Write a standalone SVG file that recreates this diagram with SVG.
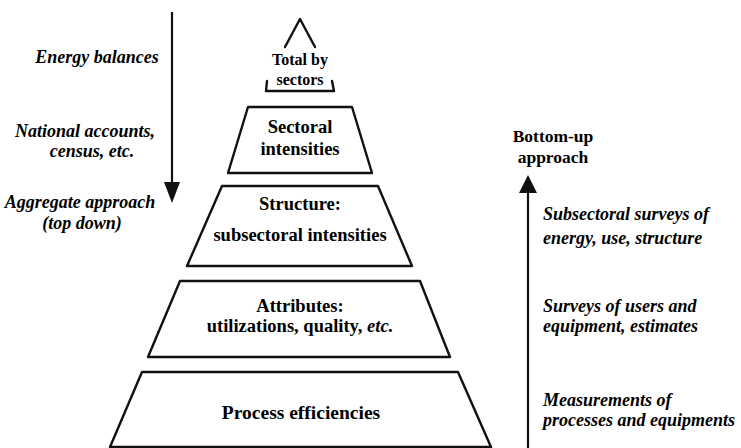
<svg xmlns="http://www.w3.org/2000/svg" width="741" height="448" viewBox="0 0 741 448">
<rect width="741" height="448" fill="#fff"/>
<g id="connectors" stroke="#111" stroke-width="2.2" fill="none">
<line x1="172" y1="12" x2="172" y2="186"/>
<polygon fill="#111" stroke="none" points="164,182 180,182 172,203"/>
<line x1="528" y1="190" x2="528" y2="448"/>
<polygon fill="#111" stroke="none" points="519,193 537,193 528,175"/>
</g>
<g id="total">
<path fill="none" stroke="#111" stroke-width="2.4" stroke-linejoin="round" stroke-linecap="round" d="M285,47 L300,19 L315,47 M267,81 L266,91 L334,91 L332,81"/>
<text x="300" y="65" font-family="Liberation Serif" font-size="16" font-weight="bold" text-anchor="middle">Total by</text>
<text x="300" y="85" font-family="Liberation Serif" font-size="16" font-weight="bold" text-anchor="middle">sectors</text>
</g>
<g id="sectoral">
<path fill="none" stroke="#111" stroke-width="2.4" stroke-linejoin="round" d="M248,107 L352,107 L372,173 L228,173 Z"/>
<text x="300" y="133" font-family="Liberation Serif" font-size="18.5" font-weight="bold" text-anchor="middle">Sectoral</text>
<text x="300" y="155" font-family="Liberation Serif" font-size="18.5" font-weight="bold" text-anchor="middle">intensities</text>
</g>
<g id="structure">
<path fill="none" stroke="#111" stroke-width="2.4" stroke-linejoin="round" d="M222,186 L378,186 L412,266 L187,266 Z"/>
<text x="300" y="210" font-family="Liberation Serif" font-size="18.5" font-weight="bold" text-anchor="middle">Structure:</text>
<text x="300" y="241" font-family="Liberation Serif" font-size="18.5" font-weight="bold" text-anchor="middle">subsectoral intensities</text>
</g>
<g id="attributes">
<path fill="none" stroke="#111" stroke-width="2.4" stroke-linejoin="round" d="M180,281 L420,281 L450,357 L148,357 Z"/>
<text x="300" y="312" font-family="Liberation Serif" font-size="18.5" font-weight="bold" text-anchor="middle">Attributes:</text>
<text x="300" y="332" font-family="Liberation Serif" font-size="18.5" font-weight="bold" text-anchor="middle">utilizations, quality, <tspan font-style="italic">etc.</tspan></text>
</g>
<g id="process">
<path fill="none" stroke="#111" stroke-width="2.4" stroke-linejoin="round" d="M142,372 L458,372 L491,447 L110,447 Z"/>
<text x="301" y="419" font-family="Liberation Serif" font-size="19.5" font-weight="bold" text-anchor="middle">Process efficiencies</text>
</g>
<g id="bottom-up">
<text x="553" y="142" font-family="Liberation Serif" font-size="17.5" font-weight="bold" text-anchor="middle">Bottom-up</text>
<text x="553" y="163" font-family="Liberation Serif" font-size="17.5" font-weight="bold" text-anchor="middle">approach</text>
</g>
<g id="left-labels">
<text x="97" y="63" font-family="Liberation Serif" font-size="18" font-weight="bold" font-style="italic" text-anchor="middle">Energy balances</text>
<text x="85" y="137" font-family="Liberation Serif" font-size="18" font-weight="bold" font-style="italic" text-anchor="middle">National accounts,</text>
<text x="92" y="157" font-family="Liberation Serif" font-size="18" font-weight="bold" font-style="italic" text-anchor="middle">census, etc.</text>
<text x="80" y="208" font-family="Liberation Serif" font-size="18" font-weight="bold" font-style="italic" text-anchor="middle">Aggregate approach</text>
<text x="82" y="229" font-family="Liberation Serif" font-size="18" font-weight="bold" font-style="italic" text-anchor="middle">(top down)</text>
</g>
<g id="right-labels">
<text x="543" y="220" font-family="Liberation Serif" font-size="18" font-weight="bold" font-style="italic">Subsectoral surveys of</text>
<text x="543" y="244" font-family="Liberation Serif" font-size="18" font-weight="bold" font-style="italic">energy, use, structure</text>
<text x="543" y="312" font-family="Liberation Serif" font-size="18" font-weight="bold" font-style="italic">Surveys of users and</text>
<text x="543" y="332" font-family="Liberation Serif" font-size="18" font-weight="bold" font-style="italic">equipment, estimates</text>
<text x="543" y="406" font-family="Liberation Serif" font-size="18" font-weight="bold" font-style="italic">Measurements of</text>
<text x="543" y="426" font-family="Liberation Serif" font-size="18" font-weight="bold" font-style="italic">processes and equipments</text>
</g>
</svg>
